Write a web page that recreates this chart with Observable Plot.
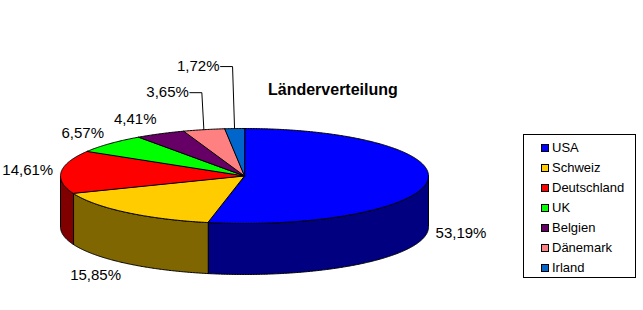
<!DOCTYPE html>
<html>
<head>
<meta charset="utf-8">
<script src="https://cdn.jsdelivr.net/npm/d3@7"></script>
<script src="https://cdn.jsdelivr.net/npm/@observablehq/plot@0.6"></script>
<style>
  html, body { margin: 0; padding: 0; background: #fff; }
  #wrap { position: relative; width: 643px; height: 310px; font-family: "Liberation Sans", Arial, sans-serif; }
  #title { position: absolute; left: 268px; top: 81.5px; font-size: 16px; line-height: 16px; font-weight: bold; color: #000; white-space: nowrap; }
  #legend { position: absolute; left: 523px; top: 134px; width: 111px; height: 142px; border: 1px solid #000; background: #fff; }
  .row { position: absolute; left: 0; height: 20px; line-height: 20px; font-size: 13px; white-space: nowrap; }
  .sw { position: absolute; left: 17px; top: 6px; width: 6px; height: 6px; border: 1px solid #000; }
  .lab { position: absolute; left: 28px; top: 0; }
</style>
</head>
<body>
<div id="wrap">
  <div id="chart"></div>
  <div id="title">Länderverteilung</div>
  <div id="legend"></div>
</div>
<script>
// ---- data ----
const categories = ["USA", "Schweiz", "Deutschland", "UK", "Belgien", "Dänemark", "Irland"];
const values = [53.19, 15.85, 14.61, 6.57, 4.41, 3.65, 1.72];
const valueLabels = ["53,19%", "15,85%", "14,61%", "6,57%", "4,41%", "3,65%", "1,72%"];
const topColors = ["#0000FF", "#FFCC00", "#FF0000", "#00FF00", "#660066", "#FF8080", "#0066CC"];
const sideColors = ["#000080", "#806600", "#800000", "#008000", "#330033", "#804040", "#003366"];

// ---- layout ----
const CX = 244, CY = 175.5, RX = 184, RY = 47.5, DEPTH = 51;
const leaderRise = {"Dänemark": 37, "Irland": 62};
const D = DEPTH / RY;
const TAU = 2 * Math.PI;

const total = d3.sum(values);
let acc = 0;
const slices = categories.map((c, i) => {
  const a = acc / total * TAU; acc += values[i]; const b = acc / total * TAU;
  return {c, i, a, b, m: (a + b) / 2};
});

function angles(a, b) {
  const steps = Math.max(2, Math.ceil((b - a) / (TAU / 720)));
  return d3.range(steps + 1).map(k => a + (b - a) * k / steps);
}

// side (front) faces
const sidePts = [];
slices.forEach(s => {
  const a = Math.max(s.a, Math.PI / 2), b = Math.min(s.b, 3 * Math.PI / 2);
  if (b <= a) return;
  const ts = angles(a, b);
  ts.forEach(t => sidePts.push({id: s.c, fill: sideColors[s.i], x: Math.sin(t), y: Math.cos(t)}));
  ts.slice().reverse().forEach(t => sidePts.push({id: s.c, fill: sideColors[s.i], x: Math.sin(t), y: Math.cos(t) - D}));
});

// top faces
const topPts = [];
slices.forEach(s => {
  topPts.push({id: s.c, fill: topColors[s.i], x: 0, y: 0});
  angles(s.a, s.b).forEach(t => topPts.push({id: s.c, fill: topColors[s.i], x: Math.sin(t), y: Math.cos(t)}));
});

// labels
const textStart = [], textEnd = [], leaderPts = [];
slices.forEach(s => {
  const sm = Math.sin(s.m), cm = Math.cos(s.m);
  const rise = leaderRise[s.c];
  if (rise) {
    const x0 = sm, y0 = cm;
    const x1 = sm - 2 / RX, y1 = cm + rise / RY;
    const x2 = x1 - 12 / RX;
    leaderPts.push({id: s.c, x: x0, y: y0}, {id: s.c, x: x1, y: y1}, {id: s.c, x: x2, y: y1});
    textEnd.push({text: valueLabels[s.i], x: x2 - 1 / RX, y: y1});
  } else {
    const front = cm < 0 ? 1 : 0;
    const p = {text: valueLabels[s.i], x: sm * (RX + 8) / RX, y: (cm * (RY + 16) - front * DEPTH) / RY};
    (sm > 0 ? textStart : textEnd).push(p);
  }
});

const chart = Plot.plot({
  width: 643,
  height: 310,
  x: {domain: [-1, 1], range: [CX - RX, CX + RX], axis: null},
  y: {domain: [-1, 1], range: [CY + RY, CY - RY], axis: null},
  color: {type: "identity"},
  style: {fontFamily: '"Liberation Sans", Arial, sans-serif', background: "white", overflow: "visible"},
  marks: [
    Plot.line(sidePts, {x: "x", y: "y", z: "id", fill: "fill", stroke: "black", strokeWidth: 1, curve: "linear-closed", strokeLinejoin: "miter"}),
    Plot.line(topPts, {x: "x", y: "y", z: "id", fill: "fill", stroke: "black", strokeWidth: 1, curve: "linear-closed", strokeLinejoin: "miter"}),
    Plot.line(leaderPts, {x: "x", y: "y", z: "id", stroke: "black", strokeWidth: 1}),
    Plot.text(textStart, {x: "x", y: "y", text: "text", textAnchor: "start", fontSize: 15, fill: "black"}),
    Plot.text(textEnd, {x: "x", y: "y", text: "text", textAnchor: "end", fontSize: 15, fill: "black"})
  ]
});
document.getElementById("chart").appendChild(chart);

// legend
const legend = document.getElementById("legend");
categories.forEach((c, i) => {
  const row = document.createElement("div");
  row.className = "row";
  row.style.top = (2.5 + 20 * i) + "px";
  row.innerHTML = `<span class="sw" style="background:${topColors[i]}"></span><span class="lab">${c}</span>`;
  legend.appendChild(row);
});
</script>
</body>
</html>
